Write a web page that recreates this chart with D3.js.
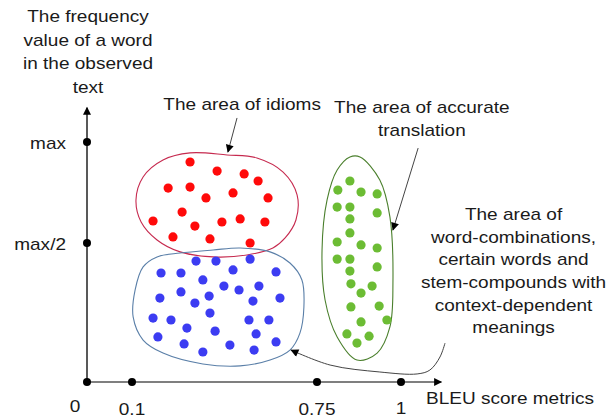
<!DOCTYPE html>
<html>
<head>
<meta charset="utf-8">
<script src="https://cdn.jsdelivr.net/npm/d3@7"></script>
<style>
  body { margin: 0; background: #fff; }
  svg text { font-family: "Liberation Sans", Arial, sans-serif; font-size: 17px; fill: #1a1a1a; }
</style>
</head>
<body>
<div id="chart"></div>
<script>
// ticks on the two axes
const xTicks = [0, 0.1, 0.75, 1];
const xTickLabels = ["0", "0.1", "0.75", "1"];
const yTicks = [0.5, 1];
const yTickLabels = ["max/2", "max"];

// dots: [BLEU, frequency share of max]
const idiomPts = [[0.304,0.901],[0.399,0.856],[0.494,0.842],[0.543,0.807],[0.227,0.772],[0.304,0.777],
  [0.360,0.723],[0.455,0.748],[0.578,0.723],[0.276,0.653],[0.174,0.609],[0.321,0.584],[0.416,0.604],
  [0.480,0.619],[0.567,0.604],[0.244,0.530],[0.374,0.520],[0.515,0.500]];
const phrasePts = [[0.325,0.435],[0.395,0.435],[0.515,0.442],[0.202,0.392],[0.272,0.392],[0.455,0.403],
  [0.606,0.396],[0.349,0.367],[0.423,0.345],[0.476,0.331],[0.546,0.345],[0.272,0.324],[0.371,0.309],
  [0.198,0.302],[0.321,0.284],[0.525,0.291],[0.620,0.302],[0.174,0.230],[0.237,0.223],[0.374,0.248],
  [0.511,0.223],[0.581,0.223],[0.293,0.194],[0.392,0.183],[0.536,0.173],[0.191,0.162],[0.283,0.137],
  [0.444,0.133],[0.606,0.144],[0.349,0.108],[0.529,0.115]];
const accuratePts = [[0.848,0.807],[0.812,0.762],[0.881,0.752],[0.929,0.743],[0.810,0.678],[0.848,0.678],
  [0.848,0.619],[0.929,0.649],[0.848,0.550],[0.810,0.505],[0.881,0.493],[0.929,0.482],[0.810,0.442],
  [0.848,0.442],[0.848,0.399],[0.929,0.414],[0.851,0.353],[0.881,0.320],[0.914,0.345],[0.851,0.270],
  [0.935,0.273],[0.881,0.216],[0.958,0.223],[0.839,0.173],[0.869,0.140],[0.905,0.165]];

// hand drawn outlines of the areas
const idiomArea = [[0.114,0.713],[0.139,0.827],[0.209,0.911],[0.304,0.946],[0.434,0.936],[0.539,0.921],
  [0.631,0.851],[0.680,0.738],[0.676,0.614],[0.638,0.525],[0.595,0.482],[0.504,0.457],[0.385,0.450],
  [0.269,0.468],[0.188,0.515],[0.132,0.604]];
const phraseArea = [[0.188,0.450],[0.269,0.464],[0.385,0.475],[0.480,0.482],[0.585,0.468],[0.655,0.428],
  [0.697,0.367],[0.704,0.270],[0.690,0.176],[0.655,0.115],[0.585,0.079],[0.480,0.058],[0.349,0.065],
  [0.209,0.104],[0.139,0.151],[0.104,0.234],[0.111,0.331],[0.139,0.414]];
const accurateArea = [[0.848,0.926],[0.878,0.926],[0.937,0.812],[0.967,0.629],[0.976,0.356],[0.967,0.198],
  [0.929,0.104],[0.869,0.079],[0.810,0.162],[0.774,0.295],[0.765,0.475],[0.780,0.713],[0.810,0.861]];

// pointer arrows
const idiomArrow = [[0.469,1.119],[0.437,0.950]];
const accurateArrow = [[1.051,0.970],[0.976,0.564]];
const phraseArrow = [[1.131,0.140],[1.116,0.090],[1.086,0.043],[1.048,0.029],[0.937,0.036],[0.789,0.061],[0.659,0.115]];

const yTitle = ["The frequency", "value of a word", "in the observed", "text"];
const xTitle = "BLEU score metrics";
const idiomLabel = ["The area of idioms"];
const accurateLabel = ["The area of accurate", "translation"];
const phraseLabel = ["The area of", "word-combinations,", "certain words and", "stem-compounds with", "context-dependent", "meanings"];

const width = 611, height = 419;
const sx = 1.12; // the source text is a bit wide

const svg = d3.select("#chart").append("svg")
  .attr("width", width).attr("height", height);

const x = d3.scaleLinear().domain(xTicks).range([87, 132, 317, 401]);
const y = d3.scaleLinear().domain([0].concat(yTicks)).range([382, 243, 142]);

const defs = svg.append("defs");
defs.append("marker").attr("id", "head")
  .attr("viewBox", "0 0 10 10").attr("refX", 9).attr("refY", 5)
  .attr("markerWidth", 9).attr("markerHeight", 8).attr("markerUnits", "userSpaceOnUse")
  .attr("orient", "auto")
  .append("path").attr("d", "M0,0 L10,5 L0,10 z").attr("fill", "#000");

function label(lines, cx, cy, lh, anchor) {
  lines.forEach((s, i) => {
    svg.append("text")
      .attr("transform", `translate(${cx},${cy + i * lh}) scale(${sx},1)`)
      .attr("text-anchor", anchor || "middle")
      .text(s);
  });
}

// axes
const line = d3.line().x(d => x(d[0])).y(d => y(d[1]));
svg.append("path").attr("d", line([[0, 0], [1.12, 0]]))
  .attr("stroke", "#555").attr("stroke-width", 1.5).attr("fill", "none")
  .attr("marker-end", "url(#head)");
svg.append("path").attr("d", line([[0, 0], [0, 1.17]]))
  .attr("stroke", "#222").attr("stroke-width", 1.5).attr("fill", "none")
  .attr("marker-end", "url(#head)");

// tick dots
svg.selectAll(".xdot").data(xTicks).enter().append("circle")
  .attr("cx", d => x(d)).attr("cy", y(0)).attr("r", 4).attr("fill", "#000");
svg.selectAll(".ydot").data(yTicks).enter().append("circle")
  .attr("cx", x(0)).attr("cy", d => y(d)).attr("r", 4).attr("fill", "#000");

// tick labels
xTicks.forEach((t, i) => {
  let px = x(t), py = y(0) + 33;
  if (i == 0) { px -= 12; py -= 3; }
  if (i == xTicks.length - 1) py -= 1;
  label([xTickLabels[i]], px, py, 0);
});
yTicks.forEach((t, i) => {
  label([yTickLabels[i]], x(0) - 21, y(t) + 7, 0, "end");
});

// areas
const area = d3.line().x(d => x(d[0])).y(d => y(d[1])).curve(d3.curveCatmullRomClosed);
svg.append("path").attr("d", area(idiomArea))
  .attr("fill", "none").attr("stroke", "#c62a4f").attr("stroke-width", 1.1);
svg.append("path").attr("d", area(phraseArea))
  .attr("fill", "none").attr("stroke", "#5a7fa8").attr("stroke-width", 1.1);
svg.append("path").attr("d", area(accurateArea))
  .attr("fill", "none").attr("stroke", "#4a7f2c").attr("stroke-width", 1.1);

// dots
const groups = [
  { pts: idiomPts, color: "#ff0a0a" },
  { pts: phrasePts, color: "#3c3cf2" },
  { pts: accuratePts, color: "#6cbc34" }
];
groups.forEach(g => {
  svg.append("g").selectAll("circle").data(g.pts).enter().append("circle")
    .attr("cx", d => x(d[0])).attr("cy", d => y(d[1]))
    .attr("r", 4.6).attr("fill", g.color);
});

// arrows
const curvy = d3.line().x(d => x(d[0])).y(d => y(d[1])).curve(d3.curveCatmullRom);
[idiomArrow, accurateArrow, phraseArrow].forEach(a => {
  svg.append("path").attr("d", curvy(a))
    .attr("fill", "none").attr("stroke", "#444").attr("stroke-width", 1)
    .attr("marker-end", "url(#head)");
});

// texts
label(yTitle, x(0) + 1, y(1.595), 23.7);
label([xTitle], x(1) + 109, y(0) + 22, 0);
label(idiomLabel, x(0.487), y(1.158), 0);
label(accurateLabel, x(1.062), y(1.144), 23);
label(phraseLabel, x(1.335), y(0.614), 22.7);
</script>
</body>
</html>
